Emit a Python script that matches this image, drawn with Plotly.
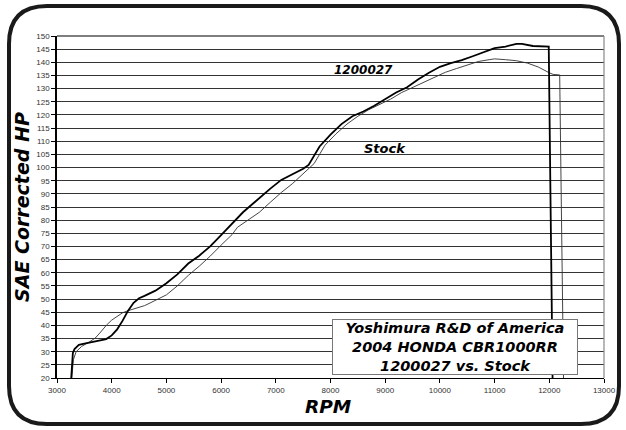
import plotly.graph_objects as go

# ---- data ----
mod_rpm = [3260, 3290, 3320, 3400, 3500, 3600, 3700, 3800, 3900, 4000, 4100, 4200, 4300, 4400,
           4500, 4600, 4700, 4800, 4900, 5000, 5200, 5400, 5600, 5800, 6000, 6200, 6400, 6500,
           6700, 6900, 7100, 7300, 7500, 7600, 7700, 7800, 8000, 8200, 8400, 8600, 8800, 9000,
           9200, 9400, 9600, 9800, 10000, 10200, 10400, 10600, 10800, 11000, 11200, 11400, 11500,
           11700, 11990, 12060]
mod_hp = [20, 29.5, 31, 32.6, 33.1, 33.5, 34, 34.3, 34.8, 36.2, 38.5, 41.8, 45.6, 48.6,
          50.3, 51.2, 52.2, 53.2, 54.6, 56, 59.4, 63.5, 66.5, 70, 74.3, 78.8, 83, 84.8,
          88.5, 92, 95.3, 97.5, 99.5, 101, 104.5, 108, 112.5, 116.5, 119.5, 121.3, 123.5, 126,
          128.5, 130.5, 133.5, 136, 138.3, 139.7, 140.8, 142.3, 143.7, 145.4, 146, 147, 147,
          146.2, 146, 20]

stk_rpm = [3270, 3300, 3350, 3450, 3600, 3700, 3800, 3900, 4000, 4100, 4200, 4300, 4400, 4500,
           4600, 4700, 4800, 4900, 5000, 5200, 5400, 5600, 5800, 6000, 6200, 6300, 6500, 6700,
           6900, 7100, 7300, 7500, 7700, 7900, 8100, 8300, 8500, 8700, 8900, 9100, 9300, 9500,
           9700, 9900, 10100, 10300, 10500, 10700, 10900, 11000, 11200, 11400, 11600, 11800,
           12000, 12070, 12190, 12260]
stk_hp = [20, 27, 30, 32, 33.8, 35.2, 37.5, 40, 42, 43.5, 44.8, 45.6, 46.2, 46.8,
          47.5, 48.5, 49.5, 50.5, 51.6, 55, 59, 62.5, 66.3, 70.5, 74.5, 77.3, 80, 83,
          86.8, 90.5, 93.8, 97.5, 101.5, 108.5, 112.8, 116.5, 119.5, 122, 124, 126, 128.5, 130.5,
          132.5, 134.2, 136.2, 137.6, 139, 140.3, 141, 141.3, 141, 140.6, 139.7, 138.2,
          136, 135.4, 135.2, 20]

x_ticks = list(range(3000, 13001, 1000))
x_labels = [str(v) for v in x_ticks]
y_ticks = list(range(20, 151, 5))
y_labels = [str(v) for v in y_ticks]
title_lines = ["Yoshimura R&D of America", "2004 HONDA CBR1000RR", "1200027 vs. Stock"]

# ---- layout geometry (pixels) ----
W, H = 626, 430
L, R, T, B = 57, 604, 36, 378


def px(xp):
    return (xp - L) / (R - L)


def py(yp):
    return (B - yp) / (B - T)


fig = go.Figure()
fig.add_trace(go.Scatter(x=stk_rpm, y=stk_hp, mode="lines",
                         line=dict(color="#303030", width=0.9), showlegend=False))
fig.add_trace(go.Scatter(x=mod_rpm, y=mod_hp, mode="lines",
                         line=dict(color="#000000", width=1.8), showlegend=False))

bold_it = dict(family="DejaVu Sans", color="#000000", weight="bold", style="italic")

# rounded frame
x0, x1, y0, y1, r = 9, 619, 6, 424, 38
path = (f"M {px(x0+r)},{py(y0)} L {px(x1-r)},{py(y0)} Q {px(x1)},{py(y0)} {px(x1)},{py(y0+r)} "
        f"L {px(x1)},{py(y1-r)} Q {px(x1)},{py(y1)} {px(x1-r)},{py(y1)} "
        f"L {px(x0+r)},{py(y1)} Q {px(x0)},{py(y1)} {px(x0)},{py(y1-r)} "
        f"L {px(x0)},{py(y0+r)} Q {px(x0)},{py(y0)} {px(x0+r)},{py(y0)} Z")

shapes = [
    dict(type="path", path=path, xref="paper", yref="paper",
         line=dict(color="#1a1a1a", width=4)),
    dict(type="line", xref="paper", yref="paper", x0=0, x1=1, y0=1, y1=1,
         line=dict(color="#000000", width=1.2)),
    dict(type="line", xref="paper", yref="paper", x0=1, x1=1, y0=0, y1=1,
         line=dict(color="#888888", width=1.2)),
]

mid = dict(xanchor="center", yanchor="middle", showarrow=False)
annotations = [
    dict(text="1200027", x=8600, y=137.2, xref="x", yref="y",
         font=dict(size=12, **bold_it), **mid),
    dict(text="Stock", x=9000, y=107.4, xref="x", yref="y",
         font=dict(size=13, **bold_it), **mid),
    dict(text="<br>".join(title_lines), x=px(455), y=py(346.5), xref="paper", yref="paper",
         align="center", bgcolor="white", bordercolor="#777777",
         borderwidth=1, borderpad=0, width=244,
         font=dict(size=14.5, **bold_it), **mid),
    dict(text="SAE Corrected HP", x=px(22), y=py(207), xref="paper", yref="paper",
         textangle=-90, font=dict(size=19, **bold_it), **mid),
    dict(text="RPM", x=px(328), y=py(406), xref="paper", yref="paper",
         font=dict(size=18.5, **bold_it), **mid),
]

fig.update_layout(
    width=W, height=H,
    margin=dict(l=L, r=W - R, t=T, b=H - B, autoexpand=False),
    paper_bgcolor="white", plot_bgcolor="white",
    shapes=shapes, annotations=annotations,
    xaxis=dict(range=[3000, 13000], tickvals=x_ticks, ticktext=x_labels, showgrid=False,
               zeroline=False, automargin=False,
               showline=True, linecolor="#000000", linewidth=1.2,
               ticks="outside", ticklen=4, tickcolor="#000000",
               tickfont=dict(family="Liberation Sans", size=8, color="#333333")),
    yaxis=dict(range=[20, 150], tickvals=y_ticks, ticktext=y_labels, showgrid=True,
               gridcolor="#333333", automargin=False,
               gridwidth=1, zeroline=False, showline=True, linecolor="#000000",
               linewidth=1.5, ticks="outside", ticklen=4, tickcolor="#000000",
               tickfont=dict(family="Liberation Sans", size=8, color="#333333")),
)

fig.write_html("out.html", config={"displayModeBar": False},
               post_script="document.body.style.margin='0';document.body.style.overflow='hidden';")
